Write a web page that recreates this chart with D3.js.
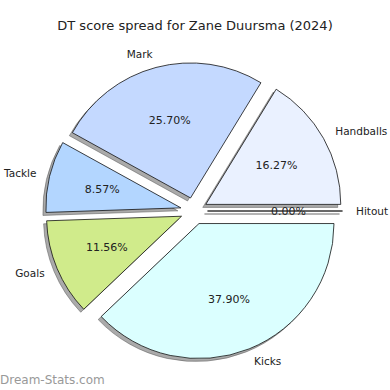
<!DOCTYPE html>
<html>
<head>
<meta charset="utf-8">
<script src="https://cdn.jsdelivr.net/npm/d3@7"></script>
<style>
  body { margin: 0; background: #fff; }
  text { font-family: "DejaVu Sans", sans-serif; fill: #222; }
</style>
</head>
<body>
<div id="chart"></div>
<script>

var categories = ["Handballs", "Mark", "Tackle", "Goals", "Kicks", "Hitout"];
var values = [16.27, 25.70, 8.57, 11.56, 37.90, 0.00];
var colours = ["#eaf1ff", "#c4d9ff", "#b3d6ff", "#d0eb8b", "#dbffff", "#e0e0ff"];

var width = 390, height = 390;
var radius = 135,
    explode = 0.1,
    cx = 194, cy = 211;

var data = categories.map(function(c, i) {
    return {name: c, value: values[i], colour: colours[i]};
});

var svg = d3.select("#chart")
    .append("svg")
    .attr("width", width)
    .attr("height", height);

svg.append("text")
    .text("DT score spread for Zane Duursma (2024)")
    .attr("x", width / 2)
    .attr("y", 30)
    .attr("text-anchor", "middle")
    .style("font-size", "13px");

// matplotlib style: start at 3 o'clock, go counterclockwise
var pie = d3.pie()
    .sort(null)
    .value(function(d) { return d.value; })
    .startAngle(Math.PI / 2)
    .endAngle(Math.PI / 2 - 2 * Math.PI);

var arc = d3.arc().innerRadius(0).outerRadius(radius);
var arcs = pie(data);

function offset(d, k) {
    var a = (d.startAngle + d.endAngle) / 2;
    return [Math.sin(a) * k, -Math.cos(a) * k];
}

var g = svg.append("g")
    .attr("transform", "translate(" + cx + "," + cy + ")");

// shadows first
arcs.forEach(function(d) {
    var o = offset(d, explode * radius);
    g.append("path")
        .attr("d", arc(d))
        .attr("transform", "translate(" + (o[0] - 3) + "," + (o[1] + 3) + ")")
        .style("fill", "#555")
        .style("fill-opacity", 0.5)
        .style("stroke", "#555")
        .style("stroke-opacity", 0.5)
        .style("stroke-width", 1);
});

arcs.forEach(function(d) {
    var o = offset(d, explode * radius);
    var s = g.append("g")
        .attr("transform", "translate(" + o[0] + "," + o[1] + ")");

    s.append("path")
        .attr("d", arc(d))
        .style("fill", d.data.colour)
        .style("stroke", "#111")
        .style("stroke-width", 0.8)
        .style("stroke-linejoin", "round");

    var p = offset(d, 0.6 * radius);
    s.append("text")
        .text(d.data.value.toFixed(2) + "%")
        .attr("x", p[0])
        .attr("y", p[1])
        .attr("dy", "0.35em")
        .attr("text-anchor", "middle")
        .style("font-size", "11px");

    var l = offset(d, 1.1 * radius);
    s.append("text")
        .text(d.data.name)
        .attr("x", l[0])
        .attr("y", l[1])
        .attr("dy", "0.35em")
        .attr("text-anchor", l[0] > 0 ? "start" : "end")
        .style("font-size", "10.5px");
});

svg.append("text")
    .text("Dream-Stats.com")
    .attr("x", 0)
    .attr("y", 384)
    .style("font-size", "12px")
    .style("fill", "#999");

</script>
</body>
</html>
